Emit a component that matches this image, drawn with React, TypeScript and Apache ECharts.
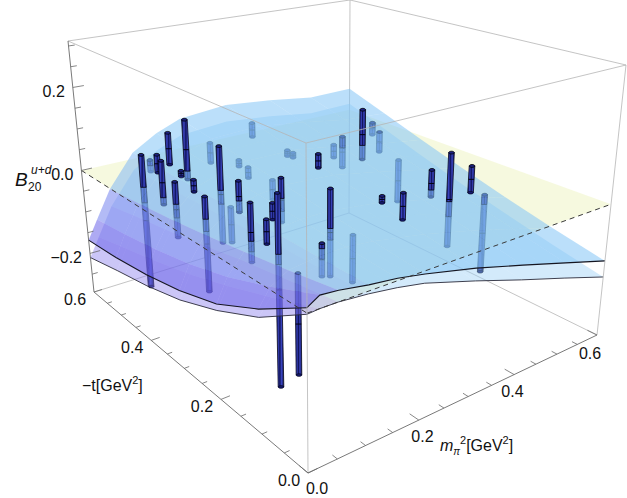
import React, { useEffect, useRef } from "react";
import * as echarts from "echarts";

const WIDTH = 627;
const HEIGHT = 498;

// ---- axis ranges ----
const M_MAX = 0.6;
const T_MAX = 0.6;
const Z_MIN = -0.293;
const Z_MAX = 0.312;

// ---- ticks ----
const tTicks = [0, 0.2, 0.4, 0.6];
const tTickLabels = ["0.0", "0.2", "0.4", "0.6"];
const mTicks = [0, 0.2, 0.4, 0.6];
const mTickLabels = ["0.0", "0.2", "0.4", "0.6"];
const zTicks = [-0.2, 0, 0.2];
const zTickLabels = ["\u22120.2", "0.0", "0.2"];
const MINOR_STEP = 0.05;

// ---- fit band (sampled) : rows = m_pi^2, cols = -t ----
const mGrid = [0, 0.02, 0.05, 0.1, 0.15, 0.2, 0.3, 0.4, 0.5, 0.6];
const tGrid = [0, 0.1, 0.2, 0.3, 0.4, 0.5, 0.6];
const upperBand = [
  [0.01, -0.052, -0.1, -0.128, -0.147, -0.16, -0.168],
  [0.025, -0.017, -0.053, -0.079, -0.098, -0.113, -0.125],
  [0.022, 0.004, -0.012, -0.027, -0.04, -0.05, -0.06],
  [0.012, 0.012, 0.013, 0.013, 0.014, 0.014, 0.015],
  [0.005, 0.013, 0.02, 0.028, 0.035, 0.043, 0.05],
  [-0.006, 0.007, 0.021, 0.034, 0.047, 0.061, 0.074],
  [-0.032, -0.013, 0.007, 0.027, 0.046, 0.066, 0.085],
  [-0.063, -0.04, -0.017, 0.005, 0.028, 0.051, 0.074],
  [-0.095, -0.07, -0.044, -0.019, 0.007, 0.032, 0.058],
  [-0.127, -0.102, -0.074, -0.043, -0.01, 0.025, 0.06],
];
const lowerBand = [
  [-0.002, -0.068, -0.113, -0.148, -0.172, -0.19, -0.21],
  [0.0, -0.037, -0.071, -0.101, -0.125, -0.146, -0.167],
  [0.0, -0.016, -0.032, -0.051, -0.069, -0.085, -0.102],
  [-0.005, -0.008, -0.01, -0.015, -0.018, -0.023, -0.027],
  [-0.013, -0.009, -0.006, -0.002, 0.001, 0.005, 0.008],
  [-0.024, -0.015, -0.005, 0.004, 0.013, 0.023, 0.032],
  [-0.058, -0.042, -0.024, -0.007, 0.009, 0.026, 0.042],
  [-0.094, -0.073, -0.051, -0.031, -0.01, 0.011, 0.031],
  [-0.128, -0.104, -0.08, -0.057, -0.032, -0.009, 0.015],
  [-0.163, -0.139, -0.112, -0.083, -0.051, -0.017, 0.017],
];

// ---- lattice data points (error bars): m_pi^2, -t, lower end, upper end ----
const barM = [
  0.07, 0.07, 0.07, 0.07, 0.12, 0.07, 0.07, 0.07, 0.07, 0.12, 0.12, 0.07, 0.07, 0.12, 0.17, 0.07, 0.07,
  0.12, 0.25, 0.25, 0.25, 0.35, 0.35, 0.35, 0.17, 0.25,
  0.45, 0.58, 0.58, 0.45, 0.45, 0.25, 0.17, 0.12, 0.25, 0.25, 0.58, 0.45, 0.45, 0.45, 0.58, 0.25,
];
const barT = [
  0.515, 0.463, 0.451, 0.424, 0.454, 0.356, 0.391, 0.412, 0.327, 0.358, 0.309, 0.21, 0.173, 0.225, 0.269, 0.147, 0.105,
  0.576, 0.583, 0.493, 0.466, 0.59, 0.484, 0.468, 0.406, 0.397,
  0.397, 0.511, 0.491, 0.45, 0.474, 0.278, 0.156, 0.115, 0.136, 0.094, 0.438, 0.23, 0.19, 0.147, 0.228, 0.197,
];
const barLo = [
  -0.261, 0.031, -0.038, 0.066, 0.004, 0.034, 0.053, -0.095, -0.172, -0.098, -0.006, -0.047, 0.01, 0.018, -0.026, -0.265, -0.214,
  -0.028, -0.046, -0.019, -0.036, -0.008, -0.017, -0.015, -0.138, -0.058,
  -0.019, -0.033, -0.072, -0.061, -0.045, 0.067, -0.085, -0.044, 0.053, 0.037, -0.184, -0.04, -0.137, 0.007, -0.263, -0.15,
];
const barHi = [
  0.052, 0.073, 0.064, 0.139, 0.145, 0.061, 0.066, 0.032, 0.037, 0.121, 0.064, 0.078, 0.061, 0.054, 0.073, 0.127, -0.012,
  0.001, 0.006, -0.002, -0.009, 0.029, -0.002, -0.002, -0.054, -0.011,
  0.107, 0.0, -0.018, 0.019, -0.011, 0.099, 0.1, 0.024, 0.068, 0.094, -0.073, 0.024, 0.081, 0.068, -0.074, -0.045,
];

// ---- view: screen corners of the box faces, order (m0,t0) (m1,t0) (m1,t1) (m0,t1) ----
const VIEW_BOTTOM = [[308, 473], [597, 335], [349, 213], [94, 292]];
const VIEW_TOP = [[306, 143], [626, 65], [350, 0], [68, 41]];

const FONT = '"Liberation Sans", Arial, sans-serif';

function quadMap(q: number[][]) {
  const [p00, p10, p11, p01] = q;
  const sx = p00[0] - p10[0] + p11[0] - p01[0];
  const sy = p00[1] - p10[1] + p11[1] - p01[1];
  const dx1 = p10[0] - p11[0], dx2 = p01[0] - p11[0], dy1 = p10[1] - p11[1], dy2 = p01[1] - p11[1];
  const den = dx1 * dy2 - dx2 * dy1;
  const g = (sx * dy2 - dx2 * sy) / den;
  const h = (dx1 * sy - sx * dy1) / den;
  const a = p10[0] - p00[0] + g * p10[0];
  const b = p01[0] - p00[0] + h * p01[0];
  const c = p00[0];
  const d = p10[1] - p00[1] + g * p10[1];
  const e = p01[1] - p00[1] + h * p01[1];
  const f = p00[1];
  return (u: number, v: number) => {
    const w = g * u + h * v + 1;
    return [(a * u + b * v + c) / w, (d * u + e * v + f) / w];
  };
}

function makeProjector() {
  const bot = quadMap(VIEW_BOTTOM);
  const top = quadMap(VIEW_TOP);
  return (m: number, t: number, z: number): number[] => {
    const X = m / M_MAX, Y = t / T_MAX, Zp = (z - Z_MIN) / (Z_MAX - Z_MIN);
    const b = bot(X, Y), p = top(X, Y);
    return [b[0] + (p[0] - b[0]) * Zp, b[1] + (p[1] - b[1]) * Zp];
  };
}

function surfAt(G: number[][], m: number, t: number): number {
  let i = 0;
  while (i < mGrid.length - 2 && m > mGrid[i + 1]) i++;
  let j = 0;
  while (j < tGrid.length - 2 && t > tGrid[j + 1]) j++;
  const a = (m - mGrid[i]) / (mGrid[i + 1] - mGrid[i]);
  const b = (t - tGrid[j]) / (tGrid[j + 1] - tGrid[j]);
  return G[i][j] * (1 - a) * (1 - b) + G[i + 1][j] * a * (1 - b) + G[i][j + 1] * (1 - a) * b + G[i + 1][j + 1] * a * b;
}

const clamp = (x: number, a: number, b: number) => Math.max(a, Math.min(b, x));
const mix = (c1: number[], c2: number[], f: number) => c1.map((v, k) => Math.round(v + (c2[k] - v) * f)).join(",");

type Builder = (api: any) => any;

function buildOption() {
  const proj = makeProjector();
  const P = (api: any, m: number, t: number, z: number) => api.coord(proj(m, t, z));

  const NL = 8;
  const layers: Builder[][] = [];
  for (let i = 0; i < NL; i++) layers.push([]);
  const L_BACK = 0, L_BAR_BELOW = 1, L_LOWER = 2, L_BAR_MID = 3, L_UPPER = 4, L_BAR_TOP = 5, L_FRONT = 6, L_TEXT = 7;

  const line = (p1: number[], p2: number[], stroke: string, lw: number, dash?: number[]): Builder => (api) => {
    const a = P(api, p1[0], p1[1], p1[2]);
    const b = P(api, p2[0], p2[1], p2[2]);
    return {
      type: "line",
      shape: { x1: a[0], y1: a[1], x2: b[0], y2: b[1] },
      style: { stroke, lineWidth: lw, lineDash: dash || null },
    };
  };

  const A = [0, T_MAX, Z_MAX], B = [0, 0, Z_MAX], C = [M_MAX, 0, Z_MAX], D = [M_MAX, T_MAX, Z_MAX];
  const E = [0, T_MAX, Z_MIN], F = [0, 0, Z_MIN], G = [M_MAX, 0, Z_MIN], Hc = [M_MAX, T_MAX, Z_MIN];
  const boxCol = "#b5b5b5";

  // zero plane (behind the band)
  layers[L_BACK].push((api) => ({
    type: "polygon",
    shape: { points: [P(api, 0, 0, 0), P(api, M_MAX, 0, 0), P(api, M_MAX, T_MAX, 0), P(api, 0, T_MAX, 0)] },
    style: { fill: "rgba(224,236,150,0.3)" },
  }));
  layers[L_BACK].push(line(D, Hc, boxCol, 0.8), line(E, Hc, boxCol, 0.8), line(G, Hc, boxCol, 0.8));

  const cells: number[][] = [];
  for (let i = 0; i < mGrid.length - 1; i++) for (let j = 0; j < tGrid.length - 1; j++) cells.push([i, j]);
  cells.sort((c1, c2) => c2[0] + c2[1] * 1.4 - (c1[0] + c1[1] * 1.4));

  // shading: the steep wall at small m_pi^2 catches the violet light
  const shade = (i: number) => {
    const mc = (mGrid[i] + mGrid[i + 1]) / 2;
    return clamp(1 - (mc - 0.01) / 0.075, 0, 1);
  };

  const surfCell = (Gd: number[][], i: number, j: number, base: number[], purple: number[], alpha: number): Builder => {
    const col = mix(base, purple, shade(i));
    const idx = [[i, j], [i + 1, j], [i + 1, j + 1], [i, j + 1]];
    return (api) => ({
      type: "polygon",
      shape: { points: idx.map(([a, b]) => P(api, mGrid[a], tGrid[b], Gd[a][b])) },
      style: { fill: `rgba(${col},${alpha})` },
    });
  };

  for (const [i, j] of cells) {
    layers[L_LOWER].push(surfCell(lowerBand, i, j, [150, 205, 245], [132, 120, 237], 0.42));
    layers[L_UPPER].push(surfCell(upperBand, i, j, [132, 197, 245], [108, 100, 234], 0.55));
  }

  // error bars as cylinders
  const barGrad = () =>
    new echarts.graphic.LinearGradient(0, 0, 1, 0, [
      { offset: 0, color: "#0e1155" },
      { offset: 0.28, color: "#3a45c0" },
      { offset: 0.5, color: "#10135c" },
      { offset: 0.72, color: "#3a45c0" },
      { offset: 1, color: "#0e1155" },
    ]);
  const barSeg = (k: number, z1: number, z2: number): Builder => (api) => {
    const m = barM[k], t = barT[k];
    const b = P(api, m, t, z1);
    const a = P(api, m, t, z2);
    const hw = 2.8;
    const children: any[] = [
      {
        type: "polygon",
        shape: { points: [[b[0] - hw, b[1]], [b[0] + hw, b[1]], [a[0] + hw, a[1]], [a[0] - hw, a[1]]] },
        style: { fill: barGrad(), stroke: "#05051a", lineWidth: 0.8 },
      },
    ];
    const mid = (barLo[k] + barHi[k]) / 2;
    if (mid >= z1 && mid <= z2) {
      const c = P(api, m, t, mid);
      children.push({
        type: "line",
        shape: { x1: c[0] - hw, y1: c[1], x2: c[0] + hw, y2: c[1] },
        style: { stroke: "#000010", lineWidth: 1 },
      });
    }
    if (z1 === barLo[k]) {
      children.push({
        type: "ellipse",
        shape: { cx: b[0], cy: b[1], rx: hw, ry: 1.3 },
        style: { fill: "#161a70", stroke: "#05051a", lineWidth: 0.7 },
      });
    }
    if (z2 === barHi[k]) {
      children.push({
        type: "ellipse",
        shape: { cx: a[0], cy: a[1], rx: hw, ry: 1.4 },
        style: { fill: "#1c2180", stroke: "#000", lineWidth: 0.8 },
      });
    }
    return { type: "group", children };
  };

  const order = barM
    .map((_, k) => k)
    .sort((p, q) => barM[q] / M_MAX + barT[q] / T_MAX - (barM[p] / M_MAX + barT[p] / T_MAX));
  for (const k of order) {
    const up = surfAt(upperBand, barM[k], barT[k]);
    const lo = surfAt(lowerBand, barM[k], barT[k]);
    const z1 = barLo[k], z2 = barHi[k];
    const belowTop = Math.min(z2, lo);
    if (belowTop - z1 > 1e-4) layers[L_BAR_BELOW].push(barSeg(k, z1, belowTop));
    const s1 = Math.max(z1, lo), s2 = Math.min(z2, up);
    if (s2 - s1 > 1e-4) layers[L_BAR_MID].push(barSeg(k, s1, s2));
    const topBottom = Math.max(z1, up);
    if (z2 - topBottom > 1e-4) layers[L_BAR_TOP].push(barSeg(k, topBottom, z2));
  }

  // surface front boundaries
  const edgeLine = (pts: number[][], stroke: string, lw: number): Builder => (api) => ({
    type: "polyline",
    shape: { points: pts.map((q) => P(api, q[0], q[1], q[2])) },
    style: { stroke, lineWidth: lw, fill: null },
  });
  for (const [Gd, col, lw] of [
    [lowerBand, "#2a2a3a", 0.9],
    [upperBand, "#151520", 1.1],
  ] as [number[][], string, number][]) {
    layers[L_FRONT].push(edgeLine(tGrid.map((t, j) => [0, t, Gd[0][j]]), col, lw));
    layers[L_FRONT].push(edgeLine(mGrid.map((m, i) => [m, 0, Gd[i][0]]), col, lw));
  }

  // dashed zero-plane front edges
  layers[L_FRONT].push(line([0, T_MAX, 0], [0, 0, 0], "#3a3a3a", 1, [5, 4]));
  layers[L_FRONT].push(line([0, 0, 0], [M_MAX, 0, 0], "#3a3a3a", 1, [5, 4]));

  // box
  layers[L_FRONT].push(
    line(A, B, boxCol, 0.8),
    line(B, C, boxCol, 0.8),
    line(C, D, boxCol, 0.8),
    line(D, A, boxCol, 0.8),
    line(B, F, boxCol, 0.8),
    line(C, G, boxCol, 0.8)
  );
  const axCol = "#6a6a6a";
  layers[L_FRONT].push(line(E, F, axCol, 0.9), line(F, G, axCol, 0.9), line(A, E, axCol, 0.9));

  // ticks
  const nMinor = Math.round(T_MAX / MINOR_STEP);
  for (let k = 0; k <= nMinor; k++) {
    const v = k * MINOR_STEP;
    const major = tTicks.some((q) => Math.abs(q - v) < 1e-6);
    layers[L_FRONT].push(line([0, v, Z_MIN], [major ? 0.016 : 0.009, v, Z_MIN], axCol, 0.8));
    const majorM = mTicks.some((q) => Math.abs(q - v) < 1e-6);
    layers[L_FRONT].push(line([v, 0, Z_MIN], [v, majorM ? 0.018 : 0.01, Z_MIN], axCol, 0.8));
  }
  const zk0 = Math.ceil((Z_MIN + 1e-9) / MINOR_STEP), zk1 = Math.floor((Z_MAX - 1e-9) / MINOR_STEP);
  for (let k = zk0; k <= zk1; k++) {
    const v = k * MINOR_STEP;
    const major = zTicks.some((q) => Math.abs(q - v) < 1e-6);
    layers[L_FRONT].push(line([0, T_MAX, v], [major ? 0.02 : 0.011, T_MAX, v], axCol, 0.8));
  }

  // tick labels
  const label = (pos: number[], dx: number, dy: number, text: string, align: string): Builder => (api) => {
    const a = P(api, pos[0], pos[1], pos[2]);
    return {
      type: "text",
      x: a[0] + dx,
      y: a[1] + dy,
      style: { text, fontSize: 16, fontFamily: FONT, fill: "#111", align, verticalAlign: "middle" },
    };
  };
  tTicks.forEach((v, k) => layers[L_TEXT].push(label([0, v, Z_MIN], -19, 7, tTickLabels[k], "center")));
  mTicks.forEach((v, k) =>
    layers[L_TEXT].push(label([v, 0, Z_MIN], 9 - 16 * (v / M_MAX), 15 + 3 * (v / M_MAX), mTickLabels[k], "center"))
  );
  zTicks.forEach((v, k) => layers[L_TEXT].push(label([0, T_MAX, v], -8, 4, zTickLabels[k], "right")));

  const series = layers.map((lst, li) => ({
    type: "custom",
    coordinateSystem: "cartesian2d",
    z: li + 1,
    silent: true,
    clip: false,
    data: lst.map((_, k) => [k + 1, 1]).concat([[lst.length + 1, 1]]),
    renderItem: (params: any, api: any) => {
      const fn = lst[params.dataIndex];
      return fn ? fn(api) : { type: "group", children: [] };
    },
  }));

  return {
    animation: false,
    backgroundColor: "#ffffff",
    grid: { left: 0, right: 0, top: 0, bottom: 0 },
    xAxis: { type: "value", min: 0, max: WIDTH, show: false },
    yAxis: { type: "value", min: 0, max: HEIGHT, inverse: true, show: false },
    series,
    graphic: [
      { type: "text", left: 15, top: 170, z: 100, style: { text: "B", font: `italic 19px ${FONT}`, fill: "#111" } },
      { type: "text", left: 31, top: 164, z: 100, style: { text: "u+d", font: `italic 12px ${FONT}`, fill: "#111" } },
      { type: "text", left: 28, top: 181, z: 100, style: { text: "20", font: `12px ${FONT}`, fill: "#111" } },
      {
        type: "text",
        left: 82,
        top: 374,
        z: 100,
        style: {
          text: "{n|\u2212t[GeV}{s|2}{n|]}",
          rich: {
            n: { fontSize: 16, fontFamily: FONT, lineHeight: 22, fill: "#111" },
            s: { fontSize: 11, fontFamily: FONT, lineHeight: 11, verticalAlign: "top", fill: "#111" },
          },
        },
      },
      {
        type: "text",
        left: 440,
        top: 434,
        z: 100,
        style: {
          text: "{i|m}{b|\u03c0}{s|2}{n|[GeV}{s|2}{n|]}",
          rich: {
            i: { fontSize: 16, fontFamily: FONT, fontStyle: "italic", lineHeight: 22, fill: "#111" },
            n: { fontSize: 16, fontFamily: FONT, lineHeight: 22, fill: "#111" },
            b: { fontSize: 10, fontFamily: FONT, fontStyle: "italic", lineHeight: 10, verticalAlign: "bottom", fill: "#111" },
            s: { fontSize: 11, fontFamily: FONT, lineHeight: 11, verticalAlign: "top", fill: "#111" },
          },
        },
      },
    ],
  };
}

export default function App() {
  const ref = useRef<HTMLDivElement>(null);
  useEffect(() => {
    document.body.style.margin = "0";
    const chart = echarts.init(ref.current as HTMLDivElement, null, { renderer: "svg" });
    chart.setOption(buildOption() as any);
    return () => chart.dispose();
  }, []);
  return <div ref={ref} style={{ width: WIDTH, height: HEIGHT }} />;
}
